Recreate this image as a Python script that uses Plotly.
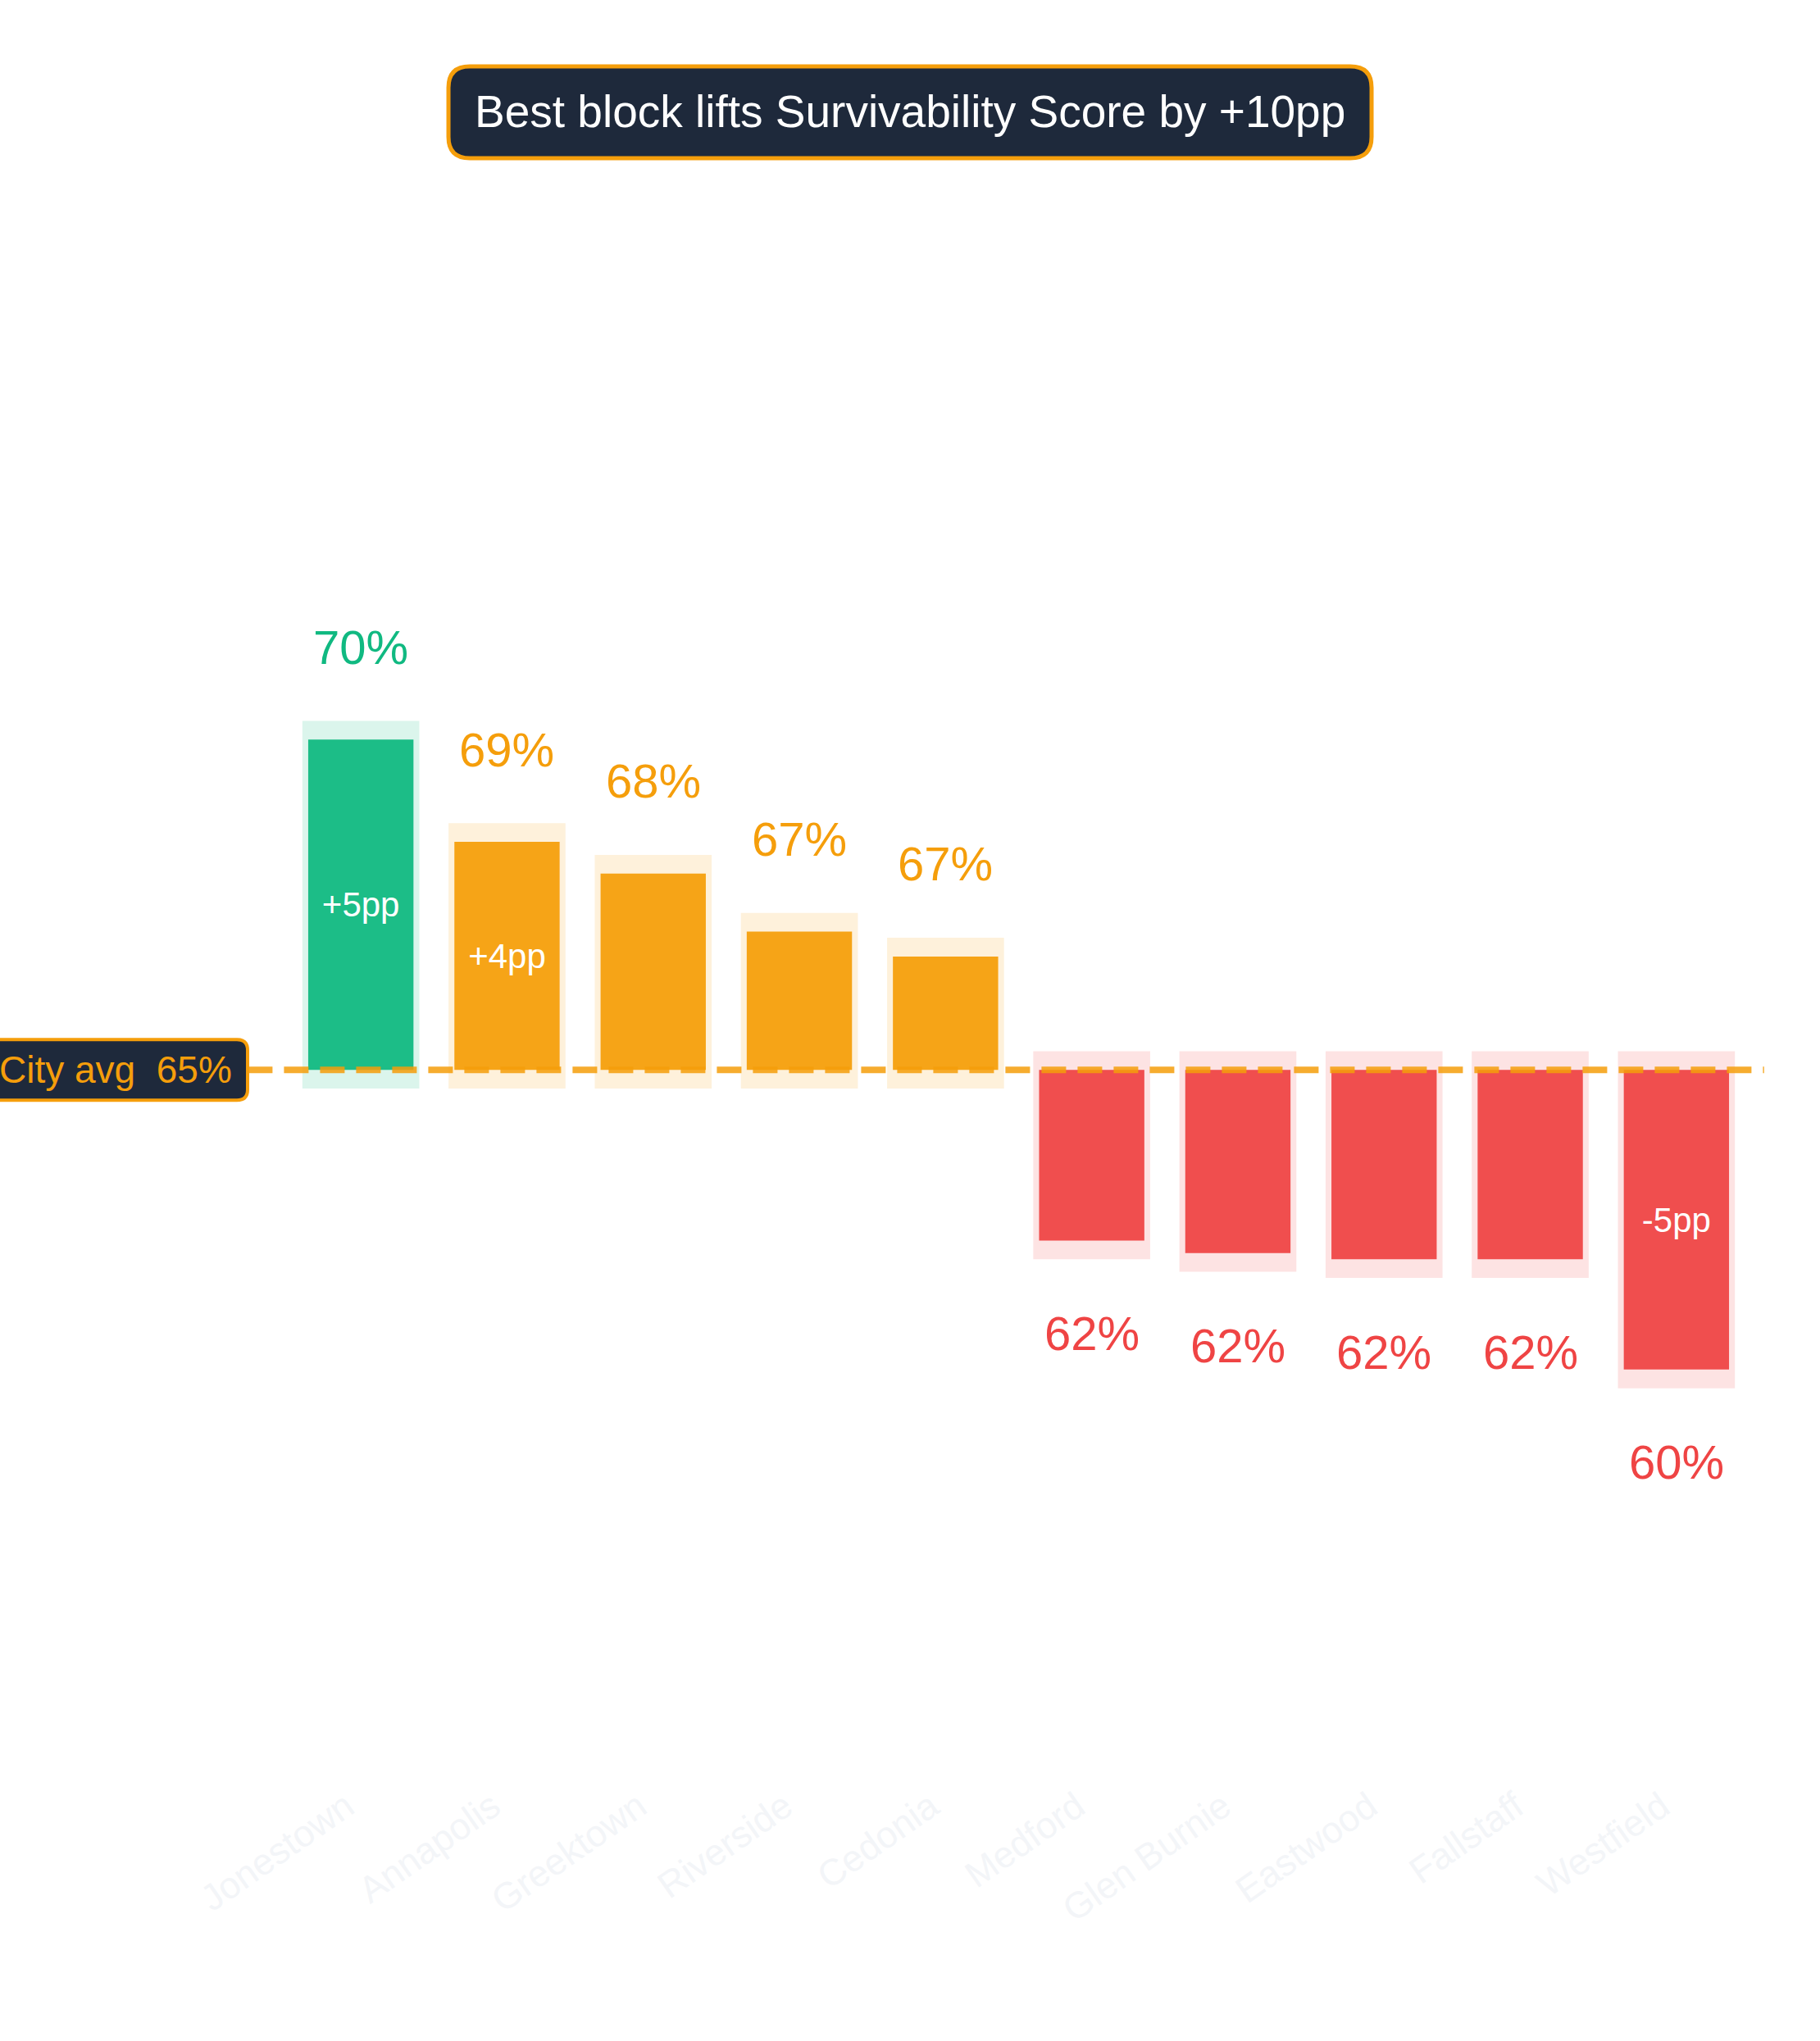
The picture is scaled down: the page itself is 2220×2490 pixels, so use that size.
import plotly.graph_objects as go

# ---- data ----
neighborhoods = ["Jonestown", "Annapolis", "Greektown", "Riverside", "Cedonia",
                 "Medford", "Glen Burnie", "Eastwood", "Fallstaff", "Westfield"]
scores = [70.3, 68.66, 68.15, 67.22, 66.82, 62.26, 62.06, 61.96, 61.96, 60.19]
city_avg = 65.0
callout_idx = [0, 1, 9]          # bars that carry a "±pp" label inside
title_text = "Best block lifts Survivability Score by +10pp"

# ---- style ----
GREEN = "#10b981"
ORANGE = "#f59e0b"
RED = "#ef4444"
NAVY = "#1e293b"
FONT = "Liberation Sans, Arial, Helvetica, sans-serif"
PAD = 0.3


def rgba(hex_color, a):
    h = hex_color.lstrip("#")
    r, g, b = int(h[0:2], 16), int(h[2:4], 16), int(h[4:6], 16)
    return f"rgba({r},{g},{b},{a})"


best = max(range(len(scores)), key=lambda i: scores[i])
diffs = [s - city_avg for s in scores]
colors = [GREEN if i == best else (ORANGE if d >= 0 else RED) for i, d in enumerate(diffs)]
signs = [1 if d >= 0 else -1 for d in diffs]
inner = [f"{round(d):+d}pp" if i in callout_idx else "" for i, d in enumerate(diffs)]

fig = go.Figure()

# halo / shadow bars
fig.add_trace(go.Bar(
    x=neighborhoods,
    y=[d + s * 2 * PAD for d, s in zip(diffs, signs)],
    base=[city_avg - s * PAD for s in signs],
    width=0.8,
    marker=dict(color=[rgba(c, 0.15) for c in colors], line=dict(width=0)),
    hoverinfo="skip",
))

# main bars
fig.add_trace(go.Bar(
    x=neighborhoods,
    y=diffs,
    base=city_avg,
    width=0.72,
    marker=dict(color=colors, opacity=0.94, line=dict(width=0)),
    text=inner,
    textposition="inside",
    insidetextanchor="middle",
    textangle=0,
    textfont=dict(size=42, color="white", family=FONT),
    hoverinfo="skip",
))

annotations = []
for name, s, c, sg in zip(neighborhoods, scores, colors, signs):
    annotations.append(dict(
        x=name, y=s, xref="x", yref="y", text=f"{round(s)}%",
        showarrow=False, yshift=113 * sg, yanchor="middle",
        font=dict(size=58, color=c, family=FONT),
    ))

# title text
annotations.append(dict(
    x=0.4257, y=1.0145, xref="paper", yref="paper", text=title_text,
    showarrow=False, xanchor="center", yanchor="middle",
    font=dict(size=55, color="white", family=FONT),
))
# city avg label
annotations.append(dict(
    x=0, y=city_avg, xref="paper", yref="y", text=f"City avg  {round(city_avg)}%",
    showarrow=False, xanchor="right", yanchor="middle", xshift=-66,
    font=dict(size=46, color=ORANGE, family=FONT),
))


def rounded_rect(x0, x1, y0, y1, r):
    return (f"M {x0 + r},{y0} L {x1 - r},{y0} Q {x1},{y0} {x1},{y0 + r} "
            f"L {x1},{y1 - r} Q {x1},{y1} {x1 - r},{y1} L {x0 + r},{y1} "
            f"Q {x0},{y1} {x0},{y1 - r} L {x0},{y0 + r} Q {x0},{y0} {x0 + r},{y0} Z")


shapes = [
    # city average dashed line
    dict(type="line", xref="paper", yref="y", x0=-0.2, x1=1.01, y0=city_avg, y1=city_avg,
         line=dict(color=ORANGE, width=8, dash="30px,14px"), layer="above", opacity=0.85),
    # city avg label box
    dict(type="path", xref="paper", yref="y", xsizemode="pixel", ysizemode="pixel",
         xanchor=0, yanchor=city_avg, path=rounded_rect(-420, -49, -37, 37, 13),
         fillcolor=NAVY, line=dict(color=ORANGE, width=4), layer="above"),
    # title box
    dict(type="path", xref="paper", yref="paper", xsizemode="pixel", ysizemode="pixel",
         xanchor=0.4257, yanchor=1.014, path=rounded_rect(-563, 563, -56, 56, 26),
         fillcolor=NAVY, line=dict(color=ORANGE, width=5), layer="above"),
]

fig.update_layout(
    width=2220, height=2490,
    margin=dict(l=351, r=86, t=165, b=322, autoexpand=False),
    paper_bgcolor="white", plot_bgcolor="white",
    barmode="overlay", showlegend=False,
    font=dict(family=FONT),
    annotations=annotations, shapes=shapes,
    xaxis=dict(showgrid=False, zeroline=False, showline=False, ticks="",
               tickangle=-35, automargin=False, ticklabelshift=-18,
               tickfont=dict(size=45, color="#f3f5f8", family=FONT)),
    yaxis=dict(visible=False, range=[53.65, 80.0], automargin=False),
)

fig.write_html("out.html")
